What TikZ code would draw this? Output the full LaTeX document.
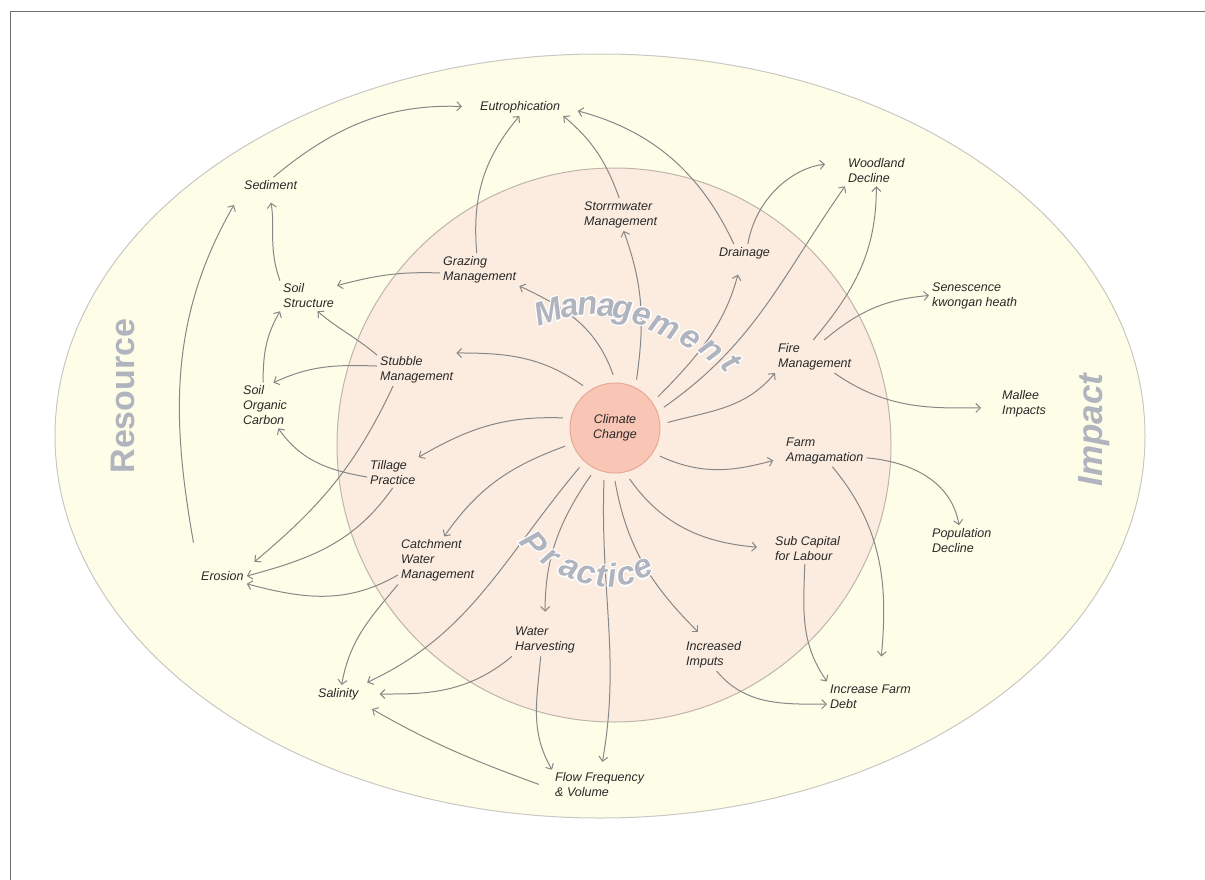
\documentclass[tikz,border=0pt]{standalone}
\usepackage{fontspec}
\setmainfont{Liberation Sans}
\usetikzlibrary{arrows.meta}

\definecolor{outerfill}{RGB}{254,254,232}
\definecolor{outerline}{RGB}{200,200,195}
\definecolor{innerfill}{RGB}{252,236,224}
\definecolor{innerline}{RGB}{190,180,172}
\definecolor{ccfill}{RGB}{249,198,182}
\definecolor{ccline}{RGB}{232,168,150}
\definecolor{linkgray}{RGB}{135,135,135}
\definecolor{wordgray}{RGB}{176,180,190}
\definecolor{labeltext}{RGB}{40,40,40}
\definecolor{framegray}{RGB}{110,110,110}

\newcommand{\labelfont}{\itshape\fontsize{12.5}{15}\selectfont}
\newcommand{\wordfont}{\bfseries\itshape\fontsize{33}{35}\selectfont}

\begin{document}
\begin{tikzpicture}[x=1pt, y=1pt,
    lbl/.style={font=\labelfont, align=left, inner sep=3pt, text=labeltext, anchor=west},
    arr/.style={-{Straight Barb[length=4.5pt,width=9pt]}, line width=1pt, draw=linkgray},
    letter/.style={font=\wordfont, text=wordgray, inner sep=0pt, text height=18pt, text depth=0pt},
    halo/.style={letter, text=white}
  ]
  \useasboundingbox (0,0) rectangle (1205,-880);
  \draw[framegray, line width=1pt] (1205,-12) -- (10,-12) -- (10,-880);

  % rings
  \path[fill=outerfill, draw=outerline, line width=1pt] (600,-436) ellipse [x radius=545pt, y radius=382pt];
  \path[fill=innerfill, draw=innerline, line width=1pt] (614,-445) circle [radius=277pt];
  \node[circle, fill=ccfill, draw=ccline, line width=1pt, minimum size=90pt, inner sep=0pt,
        outer sep=8pt, font=\labelfont, align=center, text=labeltext] (cc) at (615,-428) {Climate\\Change};

  % labels
  \node[lbl] (eutro) at (477,-107) {Eutrophication};
  \node[lbl] (sed) at (241,-185) {Sediment};
  \node[lbl] (soilstr) at (280,-296) {Soil\\Structure};
  \node[lbl] (graz) at (440,-269.5) {Grazing\\Management};
  \node[lbl] (storm) at (581,-214.5) {Storrmwater\\Management};
  \node[lbl] (drain) at (716,-253) {Drainage};
  \node[lbl] (wood) at (845,-171) {Woodland\\Decline};
  \node[lbl] (sen) at (929,-295.5) {Senescence\\kwongan heath};
  \node[lbl] (fire) at (775,-356.5) {Fire\\Management};
  \node[lbl] (mallee) at (999,-403.5) {Mallee\\Impacts};
  \node[lbl] (stub) at (377,-369.5) {Stubble\\Management};
  \node[lbl] (soc) at (240,-405.5) {Soil\\Organic\\Carbon};
  \node[lbl] (till) at (367,-472.5) {Tillage\\Practice};
  \node[lbl] (farm) at (783,-450.5) {Farm\\Amagamation};
  \node[lbl] (pop) at (929,-540.5) {Population\\Decline};
  \node[lbl] (sub) at (772,-548.5) {Sub Capital\\for Labour};
  \node[lbl] (catch) at (398,-560.5) {Catchment\\Water\\Management};
  \node[lbl] (eros) at (198,-576) {Erosion};
  \node[lbl] (water) at (512,-640) {Water\\Harvesting};
  \node[lbl] (imp) at (683,-654.5) {Increased\\Imputs};
  \node[lbl] (sal) at (315,-694) {Salinity};
  \node[lbl] (debt) at (827,-696.5) {Increase Farm\\Debt};
  \node[lbl] (flow) at (552,-785) {Flow Frequency\\\& Volume};

  % from climate change
  \draw[arr] (cc.127) to[out=145,in=0] (stub.north east);
  \draw[arr] (cc.92) to[out=109,in=-25] (graz.south east);
  \draw[arr] (cc.66) to[out=82,in=-70] (storm.-80);
  \draw[arr, shorten >=13pt] (cc.36) to[out=45,in=-105] (drain.-110);
  \draw[arr] (cc.23) to[out=35,in=-125] (wood.south west);
  \draw[arr] (cc.6) to[out=15,in=-130] (fire.south west);
  \draw[arr, shorten >=10pt] (cc.-32) to[out=-25,in=195] (farm.190);
  \draw[arr, shorten >=15pt] (cc.-74) to[out=-55,in=175] (sub.west);
  \draw[arr, shorten >=8pt] (cc.-90) to[out=-80,in=135] (imp.120);
  \draw[arr, shorten >=8pt] (cc.-102) to[out=-92,in=80] (flow.85);
  \draw[arr, shorten >=12pt] (cc.-117) to[out=-125,in=90] (water.north);
  \draw[arr, shorten >=6pt] (cc.-132) to[out=-130,in=25] (sal.north east);
  \draw[arr] (cc.200) to[out=200,in=55] (catch.75);
  \draw[arr] (cc.169) to[out=178,in=30] (till.north east);

  % resource side
  \draw[arr, shorten >=15pt] (sed.70) to[out=40,in=178] (eutro.west);
  \draw[arr] (graz.100) to[out=95,in=-130] (eutro.-95);
  \draw[arr] (storm.95) to[out=110,in=-40] (eutro.south east);
  \draw[arr, shorten >=15pt] (drain.140) to[out=115,in=-15] (eutro.east);
  \draw[arr] (catch.south west) to[out=-130,in=80] (sal.70);
  \draw[arr] (catch.200) to[out=-150,in=-15] (eros.south east);
  \draw[arr] (till.south) to[out=-125,in=15] (eros.east);
  \draw[arr, shorten >=10pt] (stub.-145) to[out=-115,in=40] (eros.north east);
  \draw[arr] (till.190) to[out=170,in=-55] (soc.-60);
  \draw[arr] (stub.175) to[out=178,in=25] (soc.70);
  \draw[arr] (stub.160) to[out=140,in=-40] (soilstr.-60);
  \draw[arr] (soc.95) to[out=90,in=-120] (soilstr.south west);
  \draw[arr] (graz.185) to[out=178,in=15] (soilstr.20);
  \draw[arr, shorten >=10pt] (soilstr.north west) to[out=110,in=-80] (sed.-100);
  \draw[arr, shorten <=26pt, shorten >=14pt] (eros.north west) to[out=100,in=-120] (sed.south west);
  \draw[arr, shorten >=18pt] (water.south west) to[out=-140,in=0] (sal.east);
  \draw[arr, shorten <=14pt, shorten >=12pt] (flow.185) to[out=160,in=-30] (sal.south east);
  \draw[arr] (water.-105) to[out=-95,in=120] (flow.north west);

  % impact side
  \draw[arr, shorten >=20pt] (drain.70) to[out=80,in=185] (wood.165);
  \draw[arr] (fire.95) to[out=50,in=-90] (wood.south);
  \draw[arr] (fire.60) to[out=40,in=185] (sen.west);
  \draw[arr, shorten >=18pt] (fire.-40) to[out=-35,in=180] (mallee.190);
  \draw[arr] (farm.-10) to[out=-5,in=100] (pop.100);
  \draw[arr, shorten >=25pt] (farm.-65) to[out=-50,in=85] (debt.60);
  \draw[arr] (sub.-100) to[out=-92,in=125] (debt.north west);
  \draw[arr] (imp.-80) to[out=-50,in=180] (debt.190);

  % ring words
  \node[font=\bfseries\fontsize{34}{34}\selectfont, text=wordgray, rotate=90] (resource) at (123,-396) {Resource};
  \node[font=\bfseries\itshape\fontsize{35}{35}\selectfont, text=wordgray, rotate=90] (impact) at (1094,-430) {Impact};
  \foreach \ch/\px/\py/\rot in {M/549/314/18, a/570/308/11, n/588/306/5, a/606/307/0, g/623/310/-7,
      e/642/316/-15, m/665/327/-24, e/690/339/-33, n/711/351/-42, t/730/364/-50,
      P/532/545/-50, r/550/558/-37, a/569/569/-22, c/586/575/-12, t/601/578/-3,
      i/612/578/4, c/626/576/13, e/643/569/24}{
    \foreach \hx/\hy in {1.2/0, -1.2/0, 0/1.2, 0/-1.2, 0.85/0.85, -0.85/0.85, 0.85/-0.85, -0.85/-0.85}
      \node[halo, rotate=\rot] at (\px+\hx,-\py+\hy) {\ch};
    \node[letter, rotate=\rot] at (\px,-\py) {\ch};
  }
\end{tikzpicture}
\end{document}
